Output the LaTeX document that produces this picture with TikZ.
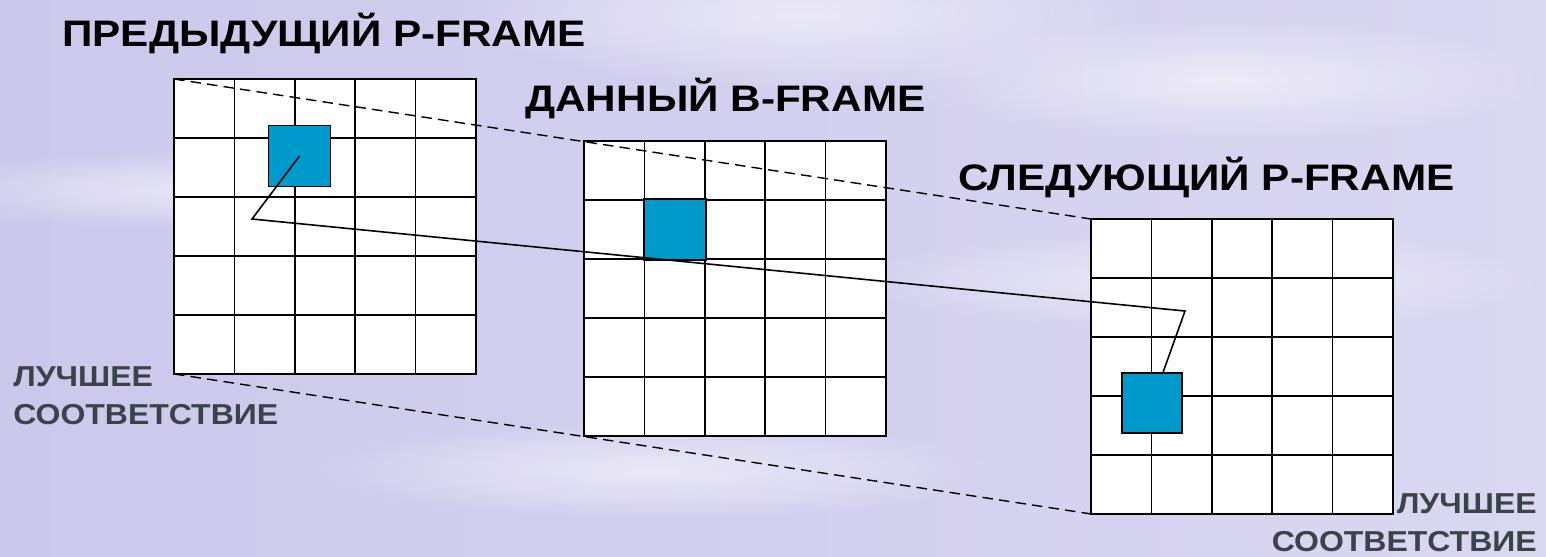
\documentclass[tikz,border=0pt]{standalone}
\usepackage{fontspec}
\setmainfont{Liberation Sans}
\newfontfamily\titlefont[FakeStretch=1.146]{Liberation Sans}
\newfontfamily\lblfont[FakeStretch=1.11]{Liberation Sans}
\usepackage{xcolor}
\usetikzlibrary{positioning,calc,fadings}

\definecolor{blockblue}{RGB}{0,153,204}
\definecolor{labelgray}{RGB}{58,68,72}
\definecolor{bgleft}{RGB}{204,200,236}
\definecolor{bgmid}{RGB}{226,224,244}
\definecolor{bgright}{RGB}{218,215,241}

\tikzfading[name=softspot, inner color=transparent!0, outer color=transparent!100]

\tikzset{
  frame/.style={draw, fill=white, line width=1pt, inner sep=0pt, outer sep=0pt,
    minimum width=6.04cm, minimum height=5.9cm, anchor=north west},
  block/.style={draw, fill=blockblue, line width=1pt, inner sep=0pt, outer sep=0pt,
    minimum width=1.24cm, minimum height=1.22cm},
  title/.style={font=\titlefont\fontsize{21}{24}\selectfont\bfseries, inner sep=0pt},
  bestlbl/.style={font=\lblfont\fontsize{16.4}{19}\selectfont\bfseries, text=labelgray, inner sep=0pt},
  match/.style={dash pattern=on 6pt off 3.5pt, line width=0.8pt},
  streak/.style={white, opacity=0.55, path fading=softspot}
}

\begin{document}
\begin{tikzpicture}[x=0.02cm, y=-0.02cm]
    % background
    \useasboundingbox (0,0) rectangle (1546,556);
    \shade[left color=bgleft, middle color=bgmid, right color=bgright] (0,0) rectangle (1546,556);
    \fill[streak] (450,-60) rectangle (1150,90);
    \fill[streak] (900,20) rectangle (1546,140);
    \fill[streak] (-100,150) rectangle (500,230);
    \fill[streak] (850,230) rectangle (1546,330);
    \fill[streak] (300,420) rectangle (1000,520);

    % titles
    \node[title, anchor=base west] (prevtitle) at (62,46) {ПРЕДЫДУЩИЙ P-FRAME};
    \node[title, anchor=base west] (curtitle) at (525,111) {ДАННЫЙ B-FRAME};
    \node[title, anchor=base west] (nexttitle) at (958,190) {СЛЕДУЮЩИЙ P-FRAME};

    % frames
    \node[frame] (prev) at (174,79) {};
    \node[frame] (cur) at (584,141) {};
    \node[frame] (next) at (1091,219) {};
    \foreach \f in {prev,cur,next} {
        \foreach \i in {1,...,4} {
            \draw[line width=1pt] ($(\f.north west)!\i/5!(\f.north east)$) -- ($(\f.south west)!\i/5!(\f.south east)$);
            \draw[line width=1pt] ($(\f.north west)!\i/5!(\f.south west)$) -- ($(\f.north east)!\i/5!(\f.south east)$);
        }
    }

    % blocks
    \node[block] (blkprev) at (299.5,156) {};
    \node[block] (blkcur) at (675,229.5) {};
    \node[block, minimum width=1.2cm, minimum height=1.2cm] (blknext) at (1152,403) {};

    % search range
    \draw[match] (prev.north west) -- (next.north west);
    \draw[match] (prev.south west) -- (next.south west);

    % motion path
    \coordinate (bendA) at (252,219);
    \coordinate (bendB) at (1185,311);
    \draw[line width=0.9pt, line join=miter] (blkprev.center) -- (bendA) -- (bendB)
        -- ($(blknext.north west)!0.68!(blknext.north east)$);

    % labels
    \node[bestlbl, anchor=base west] (bestl1) at (13,386) {ЛУЧШЕЕ};
    \node[bestlbl, anchor=base west] (bestl2) at (13,424) {СООТВЕТСТВИЕ};
    \node[bestlbl, anchor=base east] (bestr1) at (1537,513) {ЛУЧШЕЕ};
    \node[bestlbl, anchor=base east] (bestr2) at (1537,551) {СООТВЕТСТВИЕ};
\end{tikzpicture}
\end{document}
